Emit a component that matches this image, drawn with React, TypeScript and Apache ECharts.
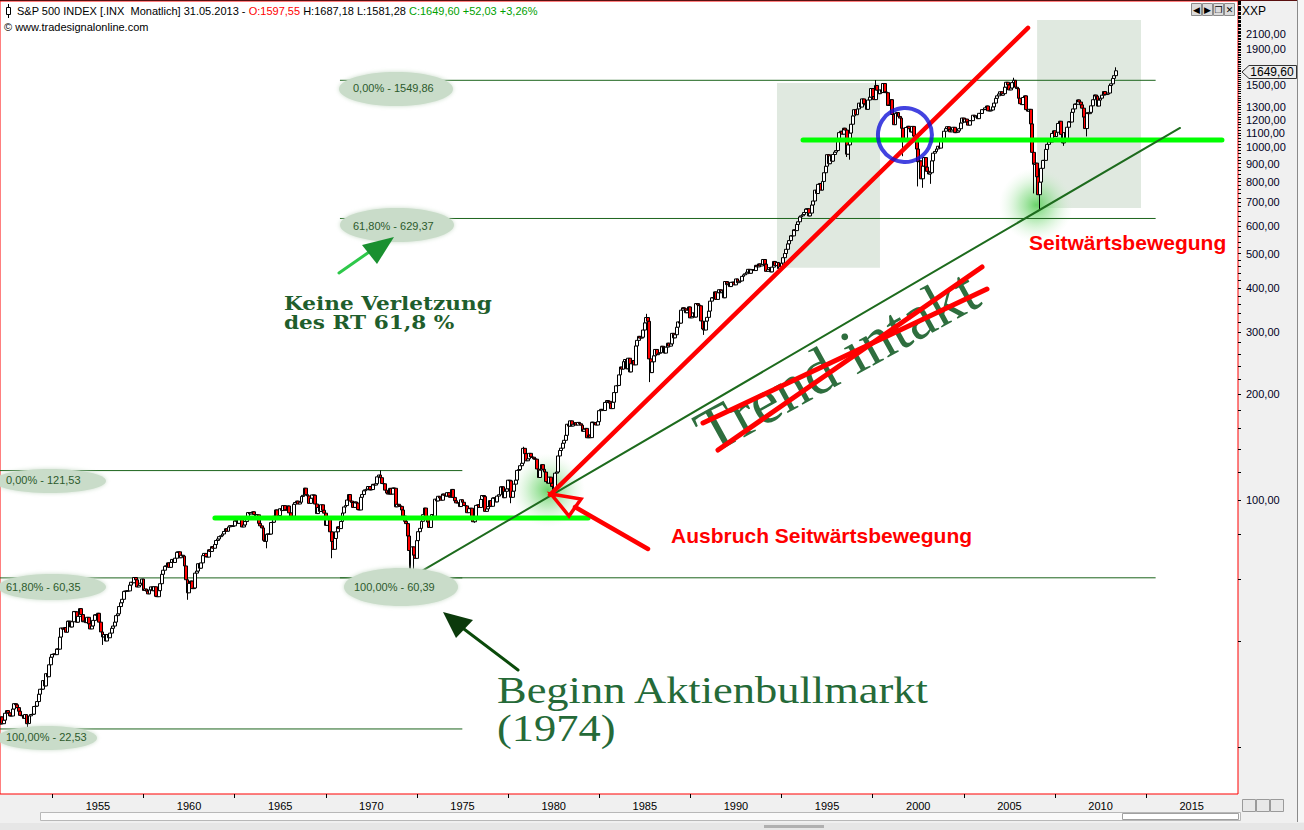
import React, { useEffect, useRef } from "react";
import * as echarts from "echarts";

// ---------- DATA (S&P 500, monthly closes) ----------
const FIRST_YEAR = 1952;
const OPEN_FIRST_BAR = 23.77;

const closes1952to1959 = [
  24.14, 23.26, 24.37, 23.32, 23.86, 24.96, 25.4, 25.03, 24.54, 24.52, 25.66, 26.57,
  26.38, 25.9, 25.29, 24.62, 24.54, 24.14, 24.75, 23.32, 23.35, 24.54, 24.76, 24.81,
  26.08, 26.15, 26.94, 28.26, 29.19, 29.21, 30.88, 29.83, 32.31, 31.68, 34.24, 35.98,
  36.63, 36.76, 36.58, 37.96, 37.91, 41.03, 43.52, 43.18, 43.67, 42.34, 45.51, 45.48,
  43.82, 45.34, 48.48, 48.38, 45.2, 46.97, 49.39, 47.51, 45.35, 45.58, 45.08, 46.67,
  44.72, 43.26, 44.11, 45.74, 47.43, 47.37, 47.91, 45.22, 42.42, 41.06, 41.72, 39.99,
  41.7, 40.84, 42.1, 43.44, 44.09, 45.24, 47.19, 47.75, 50.06, 51.33, 52.48, 55.21,
  55.42, 55.41, 55.44, 57.59, 58.68, 58.47, 60.51, 59.6, 56.88, 57.52, 58.28, 59.89,
];
const closes1960s = [
  55.61, 56.12, 55.34, 54.37, 55.83, 56.92, 55.51, 56.96, 53.52, 53.39, 55.54, 58.11,
  61.78, 63.44, 65.06, 65.31, 66.56, 64.64, 66.76, 68.07, 66.73, 68.62, 71.32, 71.55,
  68.84, 69.96, 69.55, 65.24, 59.63, 54.75, 58.23, 59.12, 56.27, 56.52, 62.26, 63.1,
  66.2, 64.29, 66.57, 69.8, 70.8, 69.37, 69.13, 72.5, 71.7, 74.01, 73.23, 75.02,
  77.04, 77.8, 78.98, 79.46, 80.37, 81.69, 83.18, 81.83, 84.18, 84.86, 84.42, 84.75,
  87.56, 87.43, 86.16, 89.11, 88.42, 84.12, 85.25, 87.17, 89.96, 92.42, 91.61, 92.43,
  92.88, 91.22, 89.23, 91.06, 86.13, 84.74, 83.6, 77.1, 76.56, 80.2, 80.45, 80.33,
  86.61, 86.78, 90.2, 94.01, 89.08, 90.64, 94.75, 93.64, 96.71, 93.9, 94.0, 96.47,
  92.24, 89.36, 90.2, 97.59, 98.68, 99.58, 97.74, 98.86, 102.67, 103.41, 108.37, 103.86,
  103.01, 98.13, 101.51, 103.69, 103.46, 97.71, 91.83, 95.51, 93.12, 97.24, 93.81, 92.06,
];
const closes1970s = [
  85.02, 89.5, 89.63, 81.52, 76.55, 72.72, 78.05, 81.52, 84.21, 83.25, 87.2, 92.15,
  95.88, 96.75, 100.31, 103.95, 99.63, 98.7, 95.58, 99.03, 98.34, 94.23, 93.99, 102.09,
  103.94, 106.57, 107.2, 107.67, 109.53, 107.14, 107.39, 111.09, 110.55, 111.58, 116.67, 118.05,
  116.03, 111.68, 111.52, 106.97, 104.95, 104.26, 108.22, 104.25, 108.43, 108.29, 95.96, 97.55,
  96.57, 96.22, 93.98, 90.31, 87.28, 86.0, 79.31, 72.15, 63.54, 73.9, 69.97, 68.56,
  76.98, 81.59, 83.36, 87.3, 91.15, 95.19, 88.75, 86.88, 83.87, 89.04, 91.24, 90.19,
  100.86, 99.71, 102.77, 101.64, 100.18, 104.28, 103.44, 102.91, 105.24, 102.9, 102.1, 107.46,
  102.03, 99.82, 98.42, 98.44, 96.12, 100.48, 98.85, 96.77, 96.53, 92.34, 94.83, 95.1,
  89.25, 87.04, 89.21, 96.83, 97.24, 95.53, 100.68, 103.29, 102.54, 93.15, 94.7, 96.11,
  99.93, 96.28, 101.59, 101.76, 99.08, 102.91, 103.81, 109.32, 109.32, 101.82, 106.16, 107.94,
];
const closes1980s = [
  114.16, 113.66, 102.09, 106.29, 111.24, 114.24, 121.67, 122.38, 125.46, 127.47, 140.52, 135.76,
  129.55, 131.27, 136.0, 132.81, 132.59, 131.21, 130.92, 122.79, 116.18, 121.89, 126.35, 122.55,
  120.4, 113.11, 111.96, 116.44, 111.88, 109.61, 107.09, 119.51, 120.42, 133.71, 138.54, 140.64,
  145.3, 148.06, 152.96, 164.42, 162.39, 168.11, 162.56, 164.4, 166.07, 163.55, 166.4, 164.93,
  163.41, 157.06, 159.18, 160.05, 150.55, 153.18, 150.66, 166.68, 166.1, 166.09, 163.58, 167.24,
  179.63, 181.18, 180.66, 179.83, 189.55, 191.85, 190.92, 188.63, 182.08, 189.82, 202.17, 211.28,
  211.78, 226.92, 238.9, 235.52, 247.35, 250.84, 236.12, 252.93, 231.32, 243.98, 249.22, 242.17,
  274.08, 284.2, 291.7, 288.36, 290.1, 304.0, 318.66, 329.8, 321.83, 251.79, 230.3, 247.08,
  257.07, 267.82, 258.89, 261.33, 262.16, 273.5, 272.02, 261.52, 271.91, 278.97, 273.7, 277.72,
  297.47, 288.86, 294.87, 309.64, 320.52, 317.98, 346.08, 351.45, 349.15, 340.36, 345.99, 353.4,
];
const closes1990s = [
  329.08, 331.89, 339.94, 330.8, 361.23, 358.02, 356.15, 322.56, 306.05, 304.0, 322.22, 330.22,
  343.93, 367.07, 375.22, 375.35, 389.83, 371.16, 387.81, 395.43, 387.86, 392.46, 375.22, 417.09,
  408.79, 412.7, 403.69, 414.95, 415.35, 408.14, 424.21, 414.03, 417.8, 418.68, 431.35, 435.71,
  438.78, 443.38, 451.67, 440.19, 450.19, 450.53, 448.13, 463.56, 458.93, 467.83, 461.79, 466.45,
  481.61, 467.14, 445.77, 450.91, 456.5, 444.27, 458.26, 475.49, 462.69, 472.35, 453.69, 459.27,
  470.42, 487.39, 500.71, 514.71, 533.4, 544.75, 562.06, 561.88, 584.41, 581.5, 605.37, 615.93,
  636.02, 640.43, 645.5, 654.17, 669.12, 670.63, 639.95, 651.99, 687.31, 705.27, 757.02, 740.74,
  786.16, 790.82, 757.12, 801.34, 848.28, 885.14, 954.29, 899.47, 947.28, 914.62, 955.4, 970.43,
  980.28, 1049.34, 1101.75, 1111.75, 1090.82, 1133.84, 1120.67, 957.28, 1017.01, 1098.67, 1163.63, 1229.23,
  1279.64, 1238.33, 1286.37, 1335.18, 1301.84, 1372.71, 1328.72, 1320.41, 1282.71, 1362.93, 1388.91, 1469.25,
];
const closes2000s = [
  1394.46, 1366.42, 1498.58, 1452.43, 1420.6, 1454.6, 1430.83, 1517.68, 1436.51, 1429.4, 1314.95, 1320.28,
  1366.01, 1239.94, 1160.33, 1249.46, 1255.82, 1224.38, 1211.23, 1133.58, 1040.94, 1059.78, 1139.45, 1148.08,
  1130.2, 1106.73, 1147.39, 1076.92, 1067.14, 989.82, 911.62, 916.07, 815.28, 885.76, 936.31, 879.82,
  855.7, 841.15, 848.18, 916.92, 963.59, 974.5, 990.31, 1008.01, 995.97, 1050.71, 1058.2, 1111.92,
  1131.13, 1144.94, 1126.21, 1107.3, 1120.68, 1140.84, 1101.72, 1104.24, 1114.58, 1130.2, 1173.82, 1211.92,
  1181.27, 1203.6, 1180.59, 1156.85, 1191.5, 1191.33, 1234.18, 1220.33, 1228.81, 1207.01, 1249.48, 1248.29,
  1280.08, 1280.66, 1294.87, 1310.61, 1270.09, 1270.2, 1276.66, 1303.82, 1335.85, 1377.94, 1400.63, 1418.3,
  1438.24, 1406.82, 1420.86, 1482.37, 1530.62, 1503.35, 1455.27, 1473.99, 1526.75, 1549.38, 1481.14, 1468.36,
  1378.55, 1330.63, 1322.7, 1385.59, 1400.38, 1280.0, 1267.38, 1282.83, 1166.36, 968.75, 896.24, 903.25,
  825.88, 735.09, 797.87, 872.81, 919.14, 919.32, 987.48, 1020.62, 1057.08, 1036.19, 1095.63, 1115.1,
];
const closes2010to2013 = [
  1073.87, 1104.49, 1169.43, 1186.69, 1089.41, 1030.71, 1101.6, 1049.33, 1141.2, 1183.26, 1180.55, 1257.64,
  1286.12, 1327.22, 1325.83, 1363.61, 1345.2, 1320.64, 1292.28, 1218.89, 1131.42, 1253.3, 1246.96, 1257.6,
  1312.41, 1365.68, 1408.47, 1397.91, 1310.33, 1362.16, 1379.32, 1406.58, 1440.67, 1412.16, 1416.18, 1426.19,
  1498.11, 1514.68, 1569.19, 1597.57, 1649.6,
];

// [year, month, intramonth low]
const intramonthLows: number[][] = [
  [1953, 9, 22.71], [1957, 10, 38.98], [1962, 6, 52.32], [1966, 10, 73.2], [1970, 5, 68.61],
  [1974, 10, 60.96], [1978, 3, 86.45], [1980, 3, 98.22], [1982, 8, 101.44], [1987, 10, 216.46],
  [1990, 10, 294.51], [1998, 8, 939.98], [1998, 10, 923.32], [2001, 9, 944.75], [2002, 7, 775.68],
  [2002, 10, 768.63], [2003, 3, 788.9], [2008, 11, 741.02], [2009, 3, 666.79], [2010, 7, 1010.91],
  [2011, 10, 1074.77], [2013, 5, 1581.28],
];
// [year, month, intramonth high]
const intramonthHighs: number[][] = [
  [1973, 1, 121.74], [1980, 11, 141.96], [1987, 8, 337.89], [2000, 3, 1552.87],
  [2007, 10, 1576.09], [2013, 5, 1687.18],
];
const lastBarOpen = 1597.55;

// axes
const xTickYears = [1955, 1960, 1965, 1970, 1975, 1980, 1985, 1990, 1995, 2000, 2005, 2010, 2015];
const yLabelValues = [100, 200, 300, 400, 500, 600, 700, 800, 900, 1000, 1100, 1200, 1300, 1500, 1900, 2100];
const X_MIN = 1952.13;
const X_MAX = 2020.04;
const Y_MIN = 14.74;
const Y_MAX = 2600;

// annotations in data coordinates: [fromYear, toYear, level]
const fibSegments = [
  [1970.8, 2015.5, 1549.86],
  [1970.8, 2015.5, 629.37],
  [1952.0, 1977.47, 121.53],
  [1952.0, 1977.47, 60.35],
  [1970.8, 2015.5, 60.39],
  [1952.0, 1977.47, 22.53],
];
const sidewaysLevels = [
  [1963.92, 1984.39, 89.2],
  [1996.18, 2019.16, 1050],
];
const redTrend = [[1982.3, 103.7], [2008.52, 2181]];
const greenTrend = [[1974.62, 60.39], [2016.86, 1136]];
const shadedZones = [
  [1994.75, 456, 2000.4, 1523],
  [2009.02, 674, 2014.72, 2297],
];
const glowPoints = [[1982.19, 107], [2008.96, 687]];
const circlePoints = [[2001.77, 1085]];

const fmtDE = (v: number) => v.toFixed(2).replace(".", ",");

function buildCandles() {
  const closes = [
    ...closes1952to1959, ...closes1960s, ...closes1970s, ...closes1980s,
    ...closes1990s, ...closes2000s, ...closes2010to2013,
  ];
  const rows = closes.map((c, i) => {
    const o = i === 0 ? OPEN_FIRST_BAR : closes[i - 1];
    return [FIRST_YEAR + i / 12, o, c, Math.min(o, c), Math.max(o, c)];
  });
  rows[rows.length - 1][1] = lastBarOpen;
  intramonthLows.forEach(([y, m, l]) => {
    const idx = (y - FIRST_YEAR) * 12 + (m - 1);
    if (rows[idx]) rows[idx][3] = Math.min(rows[idx][3], l);
  });
  intramonthHighs.forEach(([y, m, h]) => {
    const idx = (y - FIRST_YEAR) * 12 + (m - 1);
    if (rows[idx]) rows[idx][4] = Math.max(rows[idx][4], h);
  });
  return rows;
}

const SANS = '"Liberation Sans", Arial, sans-serif';

function txt(x: number, y: number, text: string, font: string, fill: string, extra: any = {}, el: any = {}) {
  return {
    type: "text",
    x,
    y,
    z: 100,
    silent: true,
    ...el,
    style: { text, font, fill, align: "left", verticalAlign: "middle", ...extra },
  };
}

function ellipse(cx: number, cy: number, rx: number, ry: number) {
  return {
    type: "ellipse",
    z: 99,
    silent: true,
    shape: { cx, cy, rx, ry },
    style: { fill: "#c9dcc9", shadowBlur: 4, shadowColor: "#c9dcc9" },
  };
}

function segLine(x1: number, y1: number, x2: number, y2: number, stroke: string, lineWidth: number) {
  return {
    type: "line",
    z: 101,
    silent: true,
    shape: { x1, y1, x2, y2 },
    style: { stroke, lineWidth, lineCap: "round" },
  };
}

function poly(points: number[][], style: any) {
  return { type: "polygon", z: 101, silent: true, shape: { points }, style };
}

export default function App() {
  const ref = useRef<HTMLDivElement>(null);

  useEffect(() => {
    if (!ref.current) return;
    const chart = echarts.init(ref.current, undefined, { renderer: "svg" });
    const candles = buildCandles();

    const yMinorTicks: number[] = [];
    for (let v = 20; v <= 2600; v += 20) yMinorTicks.push(v);

    const fibLabelFont = `11px ${SANS}`;
    const fibLabelColor = "#2c5a2c";
    const noteFont = `bold 18px "DejaVu Serif", serif`;
    const bigSerif = `38px "Liberation Serif", serif`;

    const graphic: any[] = [
      // window chrome
      { type: "rect", z: 90, silent: true, shape: { x: 0, y: 0, width: 1304, height: 1 }, style: { fill: "#5a1010" } },
      { type: "line", z: 90, silent: true, shape: { x1: 1297.5, y1: 0, x2: 1297.5, y2: 822 }, style: { stroke: "#8a8a8a", lineWidth: 1 } },
      { type: "rect", z: 90, silent: true, shape: { x: 1298, y: 0, width: 6, height: 822 }, style: { fill: "#f6f6f6" } },
      { type: "rect", z: 90, silent: true, shape: { x: 40.5, y: 812.5, width: 1200, height: 8 }, style: { fill: "#fafafa", stroke: "#b8b8b8", lineWidth: 1 } },
      { type: "rect", z: 90, silent: true, shape: { x: 1122.5, y: 813.5, width: 116, height: 6 }, style: { fill: "#ffffff", stroke: "#a0a0a0", lineWidth: 1 } },
      { type: "rect", z: 90, silent: true, shape: { x: 0, y: 823, width: 1304, height: 7 }, style: { fill: "#e6e6e6" } },
      { type: "rect", z: 90, silent: true, shape: { x: 764, y: 825, width: 60, height: 3 }, style: { fill: "#b0b0b0" } },
      { type: "rect", z: 90, silent: true, shape: { x: 1242.5, y: 799.5, width: 13, height: 12 }, style: { fill: "#e8e8e8", stroke: "#9a9a9a", lineWidth: 1 } },
      { type: "rect", z: 90, silent: true, shape: { x: 1256.5, y: 799.5, width: 13, height: 12 }, style: { fill: "#e8e8e8", stroke: "#9a9a9a", lineWidth: 1 } },
      { type: "rect", z: 90, silent: true, shape: { x: 1270.5, y: 799.5, width: 13, height: 12 }, style: { fill: "#e8e8e8", stroke: "#9a9a9a", lineWidth: 1 } },
      // top-right window buttons
      ...[1191, 1202, 1213, 1224].map((bx, i) => ({
        type: "group",
        z: 100,
        silent: true,
        children: [
          { type: "rect", shape: { x: bx + 0.5, y: 3.5, width: 10, height: 12 }, style: { fill: "#dcdcdc", stroke: "#8c8c8c", lineWidth: 1 } },
          {
            type: "text",
            x: bx + 5.5,
            y: 10,
            style: { text: ["◀", "▶", "❐", "✕"][i], font: '9px "DejaVu Sans"', fill: "#000", align: "center", verticalAlign: "middle" },
          },
        ],
      })),
      txt(1242, 11, "XXP", `12px ${SANS}`, "#000"),
      // header
      { type: "line", z: 100, silent: true, shape: { x1: 8.5, y1: 4, x2: 8.5, y2: 18 }, style: { stroke: "#000", lineWidth: 1 } },
      { type: "rect", z: 100, silent: true, shape: { x: 6.5, y: 7.5, width: 4, height: 7 }, style: { fill: "#fff", stroke: "#000", lineWidth: 1 } },
      {
        type: "text",
        x: 17,
        y: 11,
        z: 100,
        silent: true,
        style: {
          text: "{k|S&P 500 INDEX [.INX  Monatlich] 31.05.2013 - }{r|O:1597,55}{k| H:1687,18 L:1581,28 }{g|C:1649,60 +52,03 +3,26%}",
          font: `11px ${SANS}`,
          verticalAlign: "middle",
          rich: {
            k: { fill: "#000", font: `11px ${SANS}` },
            r: { fill: "#ff0000", font: `11px ${SANS}` },
            g: { fill: "#00a000", font: `11px ${SANS}` },
          },
        },
      },
      txt(4, 27, "© www.tradesignalonline.com", `11px ${SANS}`, "#000"),
      // price tag
      poly([[1242, 72], [1249, 65.5], [1296.5, 65.5], [1296.5, 78.5], [1249, 78.5]], { fill: "#ececec", stroke: "#333", lineWidth: 1 }),
      txt(1272, 72, "1649,60", `12px ${SANS}`, "#000", { align: "center" }, { z: 102 }),
      // fib ellipses + labels
      ellipse(396, 89, 57, 17), txt(353, 88, "0,00% - 1549,86", fibLabelFont, fibLabelColor),
      ellipse(397, 225, 57, 17), txt(353, 226, "61,80% - 629,37", fibLabelFont, fibLabelColor),
      ellipse(50, 481, 56, 12), txt(6, 480, "0,00% - 121,53", fibLabelFont, fibLabelColor),
      ellipse(52, 587, 54, 13), txt(6, 587, "61,80% - 60,35", fibLabelFont, fibLabelColor),
      ellipse(47, 738, 50, 12), txt(6, 737, "100,00% - 22,53", fibLabelFont, fibLabelColor),
      ellipse(401, 587, 57, 19), txt(354, 587, "100,00% - 60,39", fibLabelFont, fibLabelColor),
      // green arrow to 61.8% label
      segLine(339, 273, 372, 250, "#2ec84a", 3),
      poly([[394, 237], [362, 245], [377, 264]], { fill: "#1a9030" }),
      txt(0, 0, "Keine Verletzung", noteFont, "#1f5e2c", {}, { x: 284, y: 304, scaleX: 1.2 }),
      txt(0, 0, "des RT 61,8 %", noteFont, "#1f5e2c", {}, { x: 284, y: 323, scaleX: 1.2 }),
      // dark green arrow
      segLine(518, 670, 456, 623, "#0a4a0a", 3),
      poly([[443, 612], [473, 620], [456, 638]], { fill: "#0b3a0b" }),
      txt(0, 0, "Beginn Aktienbullmarkt", bigSerif, "#256a38", {}, { x: 497, y: 690, scaleX: 1.17 }),
      txt(0, 0, "(1974)", bigSerif, "#256a38", {}, { x: 497, y: 728, scaleX: 1.17 }),
      // Trend intakt (struck through)
      {
        type: "text",
        x: 700,
        y: 437,
        rotation: 0.506,
        z: 100,
        silent: true,
        style: { text: "Trend intakt", font: `64px "Liberation Serif", serif`, fill: "#2e6e3e", align: "left", verticalAlign: "middle" },
      },
      segLine(703, 423, 987, 289, "#ff0000", 5),
      segLine(718, 450, 982, 267, "#ff0000", 5),
      // Ausbruch arrow (hollow head)
      segLine(648, 549, 575, 507, "#ff0000", 4.5),
      poly([[551, 494], [581, 499], [569, 516]], { fill: "none", stroke: "#ff0000", lineWidth: 3.5, lineJoin: "miter" }),
      txt(671, 535, "Ausbruch Seitwärtsbewegung", `bold 21px ${SANS}`, "#ff0000"),
      txt(1029, 242, "Seitwärtsbewegung", `bold 21px ${SANS}`, "#ff0000"),
    ];

    const glowColor = new echarts.graphic.RadialGradient(0.5, 0.5, 0.5, [
      { offset: 0, color: "rgba(70,200,70,0.8)" },
      { offset: 0.45, color: "rgba(130,220,130,0.5)" },
      { offset: 1, color: "rgba(210,240,210,0)" },
    ]);

    const lineSeries = (data: number[][], color: string, width: number, z: number) => ({
      type: "line",
      data,
      z,
      silent: true,
      symbol: "none",
      animation: false,
      lineStyle: { color, width, cap: "round" },
    });

    chart.setOption({
      animation: false,
      backgroundColor: "#f0f0f0",
      grid: {
        left: 0,
        right: 66,
        top: 1,
        bottom: 36,
        show: true,
        backgroundColor: "#ffffff",
        borderColor: "#ff0000",
        borderWidth: 1,
        containLabel: false,
        outerBoundsMode: "none",
      },
      xAxis: {
        type: "value",
        min: X_MIN,
        max: X_MAX,
        splitLine: { show: false },
        axisLine: { show: false },
        axisTick: { show: true, customValues: xTickYears, length: 4, inside: false, lineStyle: { color: "#000" } },
        axisLabel: {
          customValues: xTickYears.map((y) => y + 2.5),
          formatter: (v: number) => String(Math.round(v - 2.5)),
          margin: 6,
          color: "#000",
          fontFamily: SANS,
          fontSize: 11,
        },
      },
      yAxis: {
        type: "log",
        logBase: 10,
        position: "right",
        min: Y_MIN,
        max: Y_MAX,
        splitLine: { show: false },
        axisLine: { show: false },
        axisTick: { show: true, customValues: yMinorTicks, length: 3, inside: false, lineStyle: { color: "#000" } },
        axisLabel: {
          customValues: yLabelValues,
          formatter: (v: number) => fmtDE(v),
          margin: 8,
          color: "#000022",
          fontFamily: SANS,
          fontSize: 11,
        },
      },
      graphic,
      series: [
        {
          type: "scatter",
          z: 1,
          silent: true,
          data: glowPoints,
          symbol: "circle",
          symbolSize: 74,
          itemStyle: { color: glowColor, opacity: 1 },
          markArea: {
            silent: true,
            itemStyle: { color: "#e0e9e0" },
            data: shadedZones.map(([x1, y1, x2, y2]) => [{ coord: [x1, y1] }, { coord: [x2, y2] }]),
          },
        },
        ...fibSegments.map(([a, b, v]) => lineSeries([[a, v], [b, v]], "#1c641c", 1, 2)),
        {
          type: "candlestick",
          z: 3,
          silent: true,
          large: false,
          barWidth: 3.4,
          encode: { x: 0, y: [1, 2, 3, 4] },
          data: candles,
          itemStyle: {
            color: "#ffffff",
            color0: "#ff0000",
            borderColor: "#000000",
            borderColor0: "#000000",
            borderWidth: 1,
          },
        },
        ...sidewaysLevels.map(([a, b, v]) => lineSeries([[a, v], [b, v]], "#00ff00", 5, 4)),
        lineSeries(greenTrend, "#1d6b1d", 2, 4),
        lineSeries(redTrend, "#ff0000", 4.5, 5),
        {
          type: "scatter",
          z: 6,
          silent: true,
          data: circlePoints,
          symbol: "circle",
          symbolSize: 54,
          itemStyle: { color: "rgba(0,0,0,0)", borderColor: "#1414d8", borderWidth: 4 },
        },
      ],
    });

    return () => chart.dispose();
  }, []);

  return (
    <div
      ref={ref}
      style={{ position: "absolute", left: 0, top: 0, width: 1304, height: 830 }}
    />
  );
}
